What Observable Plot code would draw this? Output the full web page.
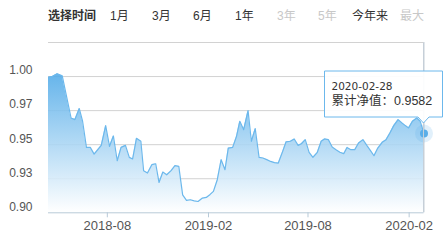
<!DOCTYPE html>
<html><head><meta charset="utf-8">
<script src="https://cdn.jsdelivr.net/npm/d3@7"></script>
<script src="https://cdn.jsdelivr.net/npm/@observablehq/plot@0.6"></script>
<style>
body{margin:0;background:#fff;width:446px;height:242px;overflow:hidden;font-family:"Liberation Sans","Noto Sans CJK SC",sans-serif;}
#hdr{position:relative;height:34px;}
#hdr span{position:absolute;top:8px;font-size:12px;line-height:16px;color:#333;white-space:nowrap;}
#hdr span.title{font-weight:bold;}
#hdr span.off{color:#c8c8c8;}
#chart svg{display:block;}
</style></head><body>
<div id="hdr"></div><div id="chart"></div>
<script>
// ---- data ----
const headerTitle = "选择时间";
const periodLabels = ["1月","3月","6月","1年","3年","5年","今年来","最大"];
const periodEnabled = [true,true,true,true,false,false,true,false];
const seriesName = "累计净值";

const dates = ["2018-04-16","2018-04-23","2018-05-02","2018-05-11","2018-05-27","2018-06-03","2018-06-11","2018-06-17","2018-06-24","2018-07-01","2018-07-08","2018-07-21","2018-07-29","2018-08-05","2018-08-12","2018-08-19","2018-08-26","2018-09-03","2018-09-10","2018-09-16","2018-09-23","2018-10-01","2018-10-06","2018-10-13","2018-10-21","2018-10-28","2018-11-03","2018-11-10","2018-11-17","2018-11-25","2018-12-02","2018-12-09","2018-12-16","2018-12-23","2018-12-30","2019-01-06","2019-01-13","2019-01-21","2019-01-28","2019-02-04","2019-02-10","2019-02-17","2019-02-24","2019-03-03","2019-03-09","2019-03-17","2019-03-24","2019-03-30","2019-04-06","2019-04-14","2019-04-20","2019-04-27","2019-05-04","2019-05-11","2019-05-18","2019-05-25","2019-06-01","2019-06-08","2019-06-16","2019-06-22","2019-06-30","2019-07-07","2019-07-14","2019-07-20","2019-07-27","2019-08-03","2019-08-10","2019-08-18","2019-08-25","2019-08-31","2019-09-07","2019-09-14","2019-09-21","2019-09-28","2019-10-05","2019-10-11","2019-10-18","2019-10-25","2019-11-01","2019-11-09","2019-11-16","2019-11-23","2019-11-29","2019-12-06","2019-12-14","2019-12-21","2019-12-28","2020-01-04","2020-01-12","2020-01-19","2020-01-25","2020-01-31","2020-02-07","2020-02-15","2020-02-21","2020-02-28"];
const values = [0.9995,1.0000,1.0020,1.0005,0.9696,0.9684,0.9765,0.9672,0.9480,0.9480,0.9431,0.9495,0.9640,0.9488,0.9564,0.9382,0.9480,0.9495,0.9407,0.9395,0.9547,0.9525,0.9309,0.9292,0.9353,0.9360,0.9223,0.9299,0.9279,0.9310,0.9346,0.9341,0.9132,0.9091,0.9096,0.9088,0.9083,0.9108,0.9113,0.9135,0.9157,0.9243,0.9390,0.9316,0.9475,0.9480,0.9561,0.9672,0.9610,0.9750,0.9525,0.9618,0.9407,0.9402,0.9390,0.9377,0.9368,0.9365,0.9451,0.9520,0.9525,0.9542,0.9495,0.9507,0.9537,0.9444,0.9407,0.9444,0.9525,0.9542,0.9537,0.9483,0.9463,0.9444,0.9434,0.9480,0.9463,0.9463,0.9512,0.9537,0.9495,0.9455,0.9419,0.9475,0.9517,0.9537,0.9586,0.9640,0.9684,0.9659,0.9640,0.9623,0.9672,0.9696,0.9672,0.9582];

const yDomain = [0.9, 1.025];
const gridValues = [0.925, 0.95, 0.975, 1.0, 1.025];
const yTickValues = [0.9, 0.925, 0.95, 0.975, 1.0];
const yTickLabels = ["0.90","0.93","0.95","0.97","1.00"];
const xTickDates = ["2018-08-01","2019-02-01","2019-08-01","2020-02-01"];
const xTickLabels = ["2018-08","2019-02","2019-08","2020-02"];

(function () {
// ---- header ----
const hdrLeft = [110,152,193,235,277,318,352,400];
const hdr = document.getElementById("hdr");
const ttl = document.createElement("span");
ttl.className = "title"; ttl.textContent = headerTitle; ttl.style.left = "48px"; hdr.appendChild(ttl);
periodLabels.forEach((lab, i) => {
  const s = document.createElement("span");
  s.textContent = lab; s.style.left = hdrLeft[i] + "px";
  if (!periodEnabled[i]) s.className = "off";
  hdr.appendChild(s);
});

// ---- chart ----
const data = dates.map((d, i) => ({date: new Date(d + "T00:00:00Z"), value: values[i]}));
const last = data[data.length - 1];
const yLabel = new Map(yTickValues.map((v, i) => [v, yTickLabels[i]]));
const xTicks = xTickDates.map(d => new Date(d + "T00:00:00Z"));
const xLabel = new Map(xTicks.map((d, i) => [+d, xTickLabels[i]]));

const gradient = () => {
  const defs = d3.create("svg:defs");
  const lg = defs.append("linearGradient").attr("id", "navFill")
    .attr("x1", 0).attr("y1", 0).attr("x2", 0).attr("y2", 1);
  lg.append("stop").attr("offset", "0%").attr("stop-color", "#50aae8");
  lg.append("stop").attr("offset", "100%").attr("stop-color", "#ffffff");
  return defs.node();
};

const axisColor = "#b8cad8";
const gridColor = "#d2d2d2";
const plot = Plot.plot({
  width: 446, height: 208,
  marginLeft: 48, marginRight: 22.5, marginTop: 8, marginBottom: 29.7,
  style: {fontFamily: '"Liberation Sans","Noto Sans CJK SC",sans-serif', background: "#fff", color: "#555", overflow: "visible"},
  x: {type: "utc", domain: [data[0].date, last.date], label: null},
  y: {domain: yDomain, label: null},
  marks: [
    gradient,
    Plot.ruleY(gridValues, {stroke: gridColor, strokeWidth: 1}),
    Plot.areaY(data, {x: "date", y1: yDomain[0], y2: "value", fill: "url(#navFill)", fillOpacity: 0.88}),
    Plot.lineY(data, {x: "date", y: "value", stroke: "#6cb8ec", strokeWidth: 1.2}),
    Plot.ruleX([last], {x: "date", y1: yDomain[0], y2: yDomain[1], stroke: "#c6cfd8"}),
    Plot.ruleY([yDomain[0]], {stroke: axisColor}),
    Plot.axisY(yTickValues, {label: null, tickSize: 0, tickPadding: 16, dy: -6, fontSize: 12, fill: "#555", tickFormat: d => yLabel.get(d)}),
    Plot.axisX(xTicks, {label: null, tickSize: 5, tickPadding: 3, fontSize: 13, fill: "#555", stroke: axisColor, strokeOpacity: 1, tickFormat: d => xLabel.get(+d)}),
    Plot.dot([last], {x: "date", y: "value", r: 9, fill: "#5aaee8", fillOpacity: 0.18}),
    Plot.dot([last], {x: "date", y: "value", r: 4, fill: "#5aaee8"})
  ]
});
document.getElementById("chart").appendChild(plot);

// ---- overlay (top grid line, crosshair top, tooltip) positioned through the plot's scales ----
const sx = plot.scale("x"), sy = plot.scale("y");
const x0 = sx.apply(data[0].date), px = sx.apply(last.date), py = sy.apply(last.value);
const yTop = Math.round(sy.apply(yDomain[1])) + 0.5;
const svg = d3.select(plot);
const over = svg.append("g");
over.append("line").attr("x1", x0).attr("x2", px).attr("y1", yTop).attr("y2", yTop)
  .attr("stroke", gridColor).attr("stroke-width", 1);
over.append("line").attr("x1", Math.round(px) - 0.5).attr("x2", Math.round(px) - 0.5)
  .attr("y1", yTop).attr("y2", sy.apply(yDomain[0]))
  .attr("stroke", "#c6cfd8").attr("stroke-width", 1);

const bw = 118, bh = 46;
const bRight = Math.min(px + bw / 2, 446 - 3.5);
const bLeft = bRight - bw;
const bBottom = py - 16, bTop = bBottom - bh;
const tip = svg.append("g").attr("text-anchor", "start");
tip.append("path")
  .attr("d", `M${bLeft},${bTop}H${bRight}V${bBottom}H${px + 5.5}L${px},${bBottom + 6}L${px - 5.5},${bBottom}H${bLeft}Z`)
  .attr("fill", "rgba(255,255,255,0.93)").attr("stroke", "#6cb8ec").attr("stroke-width", 1);
tip.append("text").attr("x", bLeft + 7).attr("y", bTop + 15.5).attr("dy", "0.35em").attr("text-anchor", "start")
  .attr("font-family", '"DejaVu Sans",sans-serif').attr("font-size", 10.5).attr("fill", "#333")
  .text(dates[dates.length - 1]);
tip.append("text").attr("x", bLeft + 7).attr("y", bTop + 30).attr("dy", "0.35em").attr("text-anchor", "start")
  .attr("font-family", '"Liberation Sans","Noto Sans CJK SC",sans-serif').attr("font-size", 12.5).attr("fill", "#333")
  .text(seriesName + "：" + last.value.toFixed(4));
})();
</script>
</body></html>
